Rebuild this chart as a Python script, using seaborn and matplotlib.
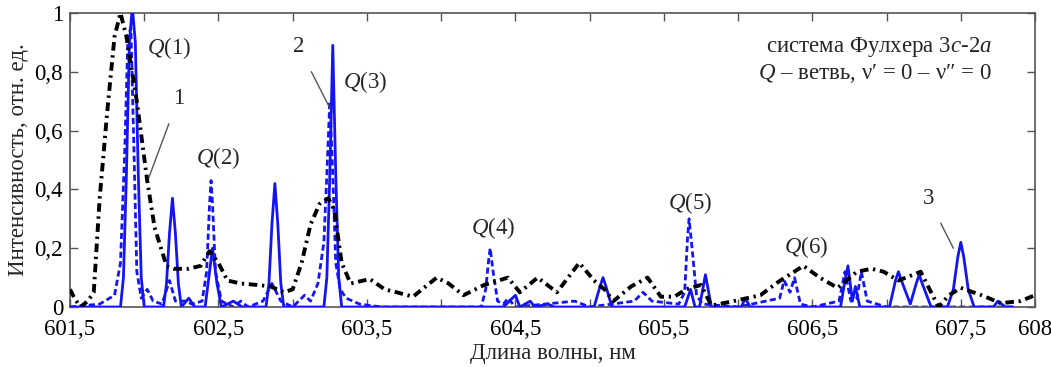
import numpy as np
import pandas as pd
import matplotlib
matplotlib.use("Agg")
import matplotlib.pyplot as plt
import seaborn as sns

# ---- data ----
# curve 1: black dash-dot
x1 = [601.50, 601.53, 601.57, 601.62, 601.66, 601.70, 601.75, 601.80, 601.84, 601.88,
      601.95, 602.02, 602.07, 602.15, 602.20, 602.30, 602.38, 602.44, 602.50, 602.56,
      602.65, 602.76, 602.85, 602.94, 603.00, 603.06, 603.12, 603.18, 603.24, 603.28,
      603.33, 603.39, 603.52, 603.62, 603.70, 603.81, 603.97, 604.05, 604.15, 604.29,
      604.45, 604.53, 604.65, 604.78, 604.93, 605.03, 605.10, 605.16, 605.28, 605.39,
      605.48, 605.57, 605.65, 605.75, 605.82, 605.97, 606.15, 606.27, 606.44, 606.55,
      606.67, 606.80, 606.90, 606.98, 607.08, 607.23, 607.35, 607.42, 607.50, 607.64,
      607.77, 607.90, 608.00]
y1 = [0.06, 0.03, 0.00, 0.02, 0.05, 0.37, 0.66, 0.92, 1.00, 0.92,
      0.70, 0.43, 0.27, 0.14, 0.13, 0.13, 0.14, 0.19, 0.15, 0.09,
      0.08, 0.075, 0.07, 0.05, 0.06, 0.15, 0.28, 0.35, 0.37, 0.33,
      0.15, 0.08, 0.095, 0.06, 0.05, 0.035, 0.10, 0.08, 0.04, 0.075,
      0.10, 0.05, 0.10, 0.05, 0.15, 0.09, 0.06, 0.02, 0.07, 0.10,
      0.035, 0.035, 0.06, 0.075, 0.005, 0.02, 0.04, 0.085, 0.14, 0.10,
      0.065, 0.12, 0.13, 0.12, 0.09, 0.12, 0.00, 0.04, 0.065, 0.04,
      0.013, 0.02, 0.04]

# curve 2: blue dashed
x2 = [601.50, 601.70, 601.80, 601.84, 601.87, 601.89, 601.91, 601.93, 601.95, 601.98,
      602.02, 602.06, 602.12, 602.17, 602.21, 602.28, 602.32, 602.39, 602.42, 602.44,
      602.45, 602.46, 602.48, 602.52, 602.60, 602.65, 602.70, 602.80, 602.86, 602.92,
      603.00, 603.08, 603.12, 603.17, 603.21, 603.23, 603.25, 603.27, 603.29, 603.32,
      603.36, 603.45, 603.60, 604.27, 604.30, 604.32, 604.33, 604.35, 604.38, 604.42,
      604.45, 604.50, 604.90, 605.00, 605.30, 605.36, 605.42, 605.60, 605.64, 605.66,
      605.67, 605.69, 605.72, 605.76, 606.00, 606.28, 606.31, 606.35, 606.38, 606.42,
      606.50, 606.68, 606.72, 606.76, 606.80, 606.83, 606.87, 607.00, 607.85]
y2 = [0.00, 0.01, 0.04, 0.15, 0.55, 0.92, 0.95, 0.55, 0.12, 0.03,
      0.06, 0.02, 0.01, 0.09, 0.02, 0.02, 0.01, 0.02, 0.12, 0.35,
      0.43, 0.35, 0.12, 0.02, 0.00, 0.02, 0.00, 0.02, 0.08, 0.02,
      0.00, 0.04, 0.02, 0.08, 0.22, 0.45, 0.70, 0.45, 0.15, 0.06,
      0.03, 0.01, 0.00, 0.00, 0.06, 0.16, 0.20, 0.12, 0.02, 0.01,
      0.03, 0.00, 0.02, 0.00, 0.02, 0.05, 0.02, 0.01, 0.05, 0.24,
      0.30, 0.20, 0.04, 0.01, 0.00, 0.03, 0.09, 0.05, 0.10, 0.01,
      0.00, 0.02, 0.12, 0.02, 0.03, 0.12, 0.02, 0.00, 0.00]

# curve 3: blue solid
x3 = [601.50, 601.84, 601.86, 601.88, 601.90, 601.92, 601.94, 601.96, 601.98, 602.00,
      602.13, 602.15, 602.17, 602.19, 602.21, 602.23, 602.25, 602.30, 602.34, 602.41,
      602.43, 602.46, 602.49, 602.52, 602.60, 602.66, 602.82, 602.84, 602.86, 602.88,
      602.90, 602.92, 602.94, 603.21, 603.23, 603.25, 603.27, 603.29, 603.31, 603.33,
      604.42, 604.50, 604.53, 604.60, 604.63, 604.72, 604.76, 605.03, 605.07, 605.09,
      605.11, 605.15, 605.64, 605.68, 605.71, 605.74, 605.78, 605.82, 606.02, 606.05,
      606.08, 606.69, 606.72, 606.74, 606.77, 606.79, 606.82, 607.02, 607.06, 607.08,
      607.10, 607.16, 607.20, 607.22, 607.24, 607.30, 607.41, 607.45, 607.48, 607.50,
      607.52, 607.55, 607.59, 607.72, 607.75, 607.80, 607.85]
y3 = [0.00, 0.00, 0.10, 0.45, 0.90, 1.02, 0.90, 0.45, 0.10, 0.00,
      0.00, 0.08, 0.25, 0.37, 0.25, 0.08, 0.00, 0.03, 0.00, 0.00,
      0.08, 0.20, 0.08, 0.00, 0.02, 0.00, 0.00, 0.08, 0.28, 0.42,
      0.28, 0.08, 0.00, 0.00, 0.10, 0.45, 0.89, 0.45, 0.10, 0.00,
      0.00, 0.04, 0.00, 0.02, 0.00, 0.01, 0.00, 0.00, 0.07, 0.10,
      0.07, 0.00, 0.00, 0.06, 0.00, 0.00, 0.11, 0.00, 0.00, 0.03,
      0.00, 0.00, 0.09, 0.14, 0.02, 0.07, 0.00, 0.00, 0.09, 0.12,
      0.09, 0.01, 0.08, 0.11, 0.08, 0.00, 0.00, 0.06, 0.17, 0.22,
      0.17, 0.06, 0.00, 0.00, 0.02, 0.00, 0.00]

x_ticks = [601.5, 602.0, 602.5, 603.0, 603.5, 604.0, 604.5, 605.0, 605.5, 606.0,
           606.5, 607.0, 607.5, 608.0]
x_tick_labels = ["601,5", "", "602,5", "", "603,5", "", "604,5", "", "605,5", "",
                 "606,5", "", "607,5", "608"]
y_ticks = [0, 0.2, 0.4, 0.6, 0.8, 1.0]
y_tick_labels = ["0", "0,2", "0,4", "0,6", "0,8", "1"]

peak_labels = ["$Q$(1)", "$Q$(2)", "$Q$(3)", "$Q$(4)", "$Q$(5)", "$Q$(6)"]
peak_label_x = [602.17, 602.50, 603.49, 604.35, 605.68, 606.46]
peak_label_y = [0.88, 0.505, 0.765, 0.27, 0.355, 0.205]

# ---- style ----
sns.set_theme(style="white")
plt.rcParams["font.family"] = ["Liberation Serif", "DejaVu Serif"]
plt.rcParams["mathtext.fontset"] = "custom"
plt.rcParams["mathtext.rm"] = "Liberation Serif"
plt.rcParams["mathtext.it"] = "Liberation Serif:italic"
plt.rcParams["mathtext.bf"] = "Liberation Serif:bold"

FS = 16.5

fig = plt.figure(figsize=(10.51, 3.67), dpi=100)
ax = fig.add_axes([0.0666, 0.1635, 0.9182, 0.8011])

blue = "#1414f5"
df1 = pd.DataFrame({"x": x1, "y": y1})
df2 = pd.DataFrame({"x": x2, "y": y2})
df3 = pd.DataFrame({"x": x3, "y": y3})

sns.lineplot(data=df2, x="x", y="y", ax=ax, color=blue, linewidth=2.0,
             linestyle=(0, (2.2, 1.2)), sort=False, zorder=2)
sns.lineplot(data=df3, x="x", y="y", ax=ax, color=blue, linewidth=2.0,
             linestyle="-", sort=False, zorder=3)
sns.lineplot(data=df1, x="x", y="y", ax=ax, color="black", linewidth=2.8,
             linestyle=(0, (2.2, 1.2, 0.6, 1.2)), sort=False, zorder=4)

ax.set_xlim(601.5, 608.0)
ax.set_ylim(0, 1.0)
ax.set_xticks(x_ticks)
ax.set_xticklabels(x_tick_labels)
ax.set_yticks(y_ticks)
ax.set_yticklabels(y_tick_labels)
ax.tick_params(axis="both", direction="in", length=6, width=1, color="#555555",
               labelsize=FS, top=True, right=True, bottom=True, left=True,
               labelcolor="black")
ax.tick_params(axis="x", pad=9)
ax.tick_params(axis="y", pad=5)
for s in ax.spines.values():
    s.set_visible(True)
    s.set_color("#555555")
    s.set_linewidth(1.2)

ax.set_xlabel("Длина волны, нм", fontsize=FS, labelpad=2)
ax.set_ylabel("Интенсивность, отн. ед.", fontsize=FS, labelpad=4)

for lab, px, py in zip(peak_labels, peak_label_x, peak_label_y):
    ax.text(px, py, lab, fontsize=FS, ha="center", va="center", zorder=6)

# curve number labels with leader lines
ax.annotate("1", xy=(602.02, 0.425), xytext=(602.23, 0.71), fontsize=FS,
            ha="center", va="center",
            arrowprops=dict(arrowstyle="-", color="#555555", lw=1,
                            shrinkA=9, shrinkB=0))
ax.annotate("2", xy=(603.25, 0.677), xytext=(603.04, 0.885), fontsize=FS,
            ha="center", va="center",
            arrowprops=dict(arrowstyle="-", color="#555555", lw=1,
                            shrinkA=9, shrinkB=0))
ax.annotate("3", xy=(607.45, 0.20), xytext=(607.28, 0.37), fontsize=FS,
            ha="center", va="center",
            arrowprops=dict(arrowstyle="-", color="#555555", lw=1,
                            shrinkA=9, shrinkB=0))

ax.text(0.955, 0.885, "система Фулхера 3$c$-2$a$", transform=ax.transAxes,
        fontsize=FS, ha="right", va="center")
ax.text(0.955, 0.795, "$Q$ – ветвь, ν′ = 0 – ν″ = 0", transform=ax.transAxes,
        fontsize=FS, ha="right", va="center")

fig.savefig("out.png", dpi=100)
